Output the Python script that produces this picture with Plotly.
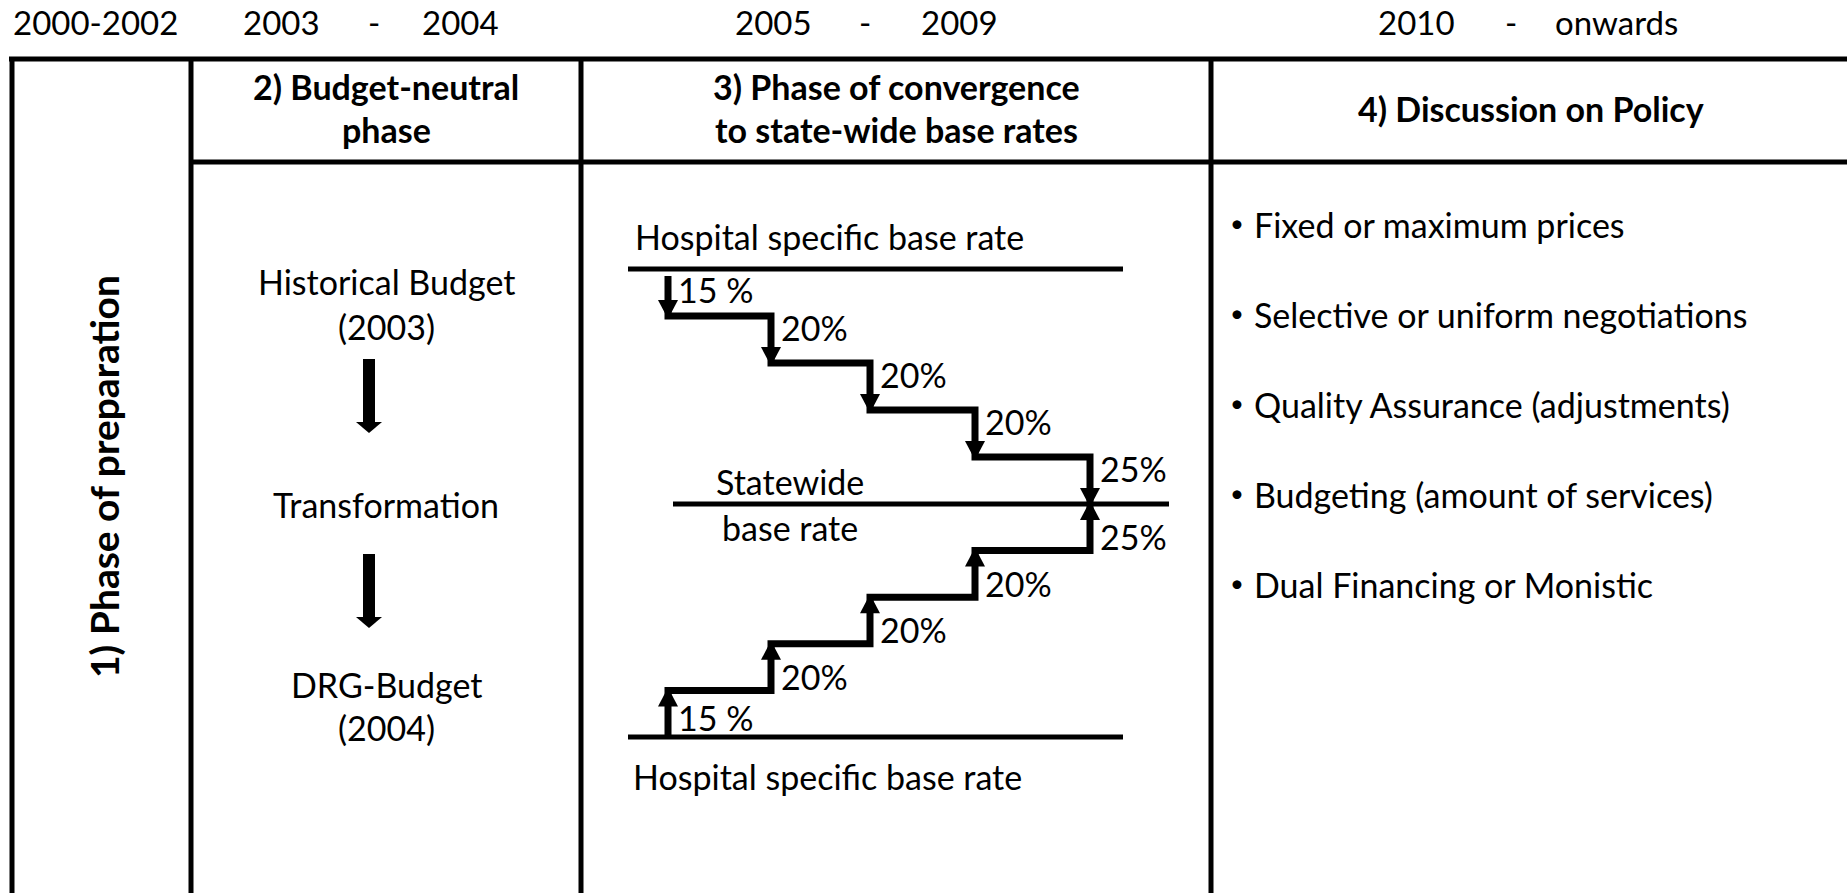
import plotly.graph_objects as go

# ---------------- data (text content) ----------------
period_start = ["2000-2002", "2003", "2005", "2010"]
period_end = ["", "2004", "2009", "onwards"]
phase_titles = [
    "1) Phase of preparation",
    "2) Budget-neutral<br>phase",
    "3) Phase of convergence<br>to state-wide base rates",
    "4) Discussion on Policy",
]
budget_stages = ["Historical Budget<br>(2003)", "Transformation", "DRG-Budget<br>(2004)"]
convergence_steps = ["15 %", "20%", "20%", "20%", "25%"]
base_rate_labels = ["Hospital specific base rate", "Statewide<br>base rate", "Hospital specific base rate"]
policy_items = [
    "Fixed or maximum prices",
    "Selective or uniform negotiations",
    "Quality Assurance (adjustments)",
    "Budgeting (amount of services)",
    "Dual Financing or Monistic",
]

# ---------------- layout constants ----------------
W, H = 1847, 893
FONT = "Lato"
FS = 34
FS_YEAR = 33
FS_HEAD = 34
FS_VERT = 39
LW = 5          # table lines
SLW = 7         # stair lines
DY = -3         # text vertical nudge
TABLE_TOP = 59
HEADER_BOTTOM = 162
LEFT_BORDER = 12
COL_X = [191, 581, 1211]

YEAR_Y = 25
year_start_x = [95, 281, 773, 1416]
year_dash_x = [None, 374, 865, 1511]
year_end_x = [None, 460, 959, 1616]

header_cx = [None, 386, 896, 1531]
header_y = [89, 132]
single_header_y = 111
vert_label = (104, 480)

budget_cx = 386
budget_y = [[284, 329], [507], [687, 730]]
budget_arrows = [(359, 433), (554, 628)]
budget_arrow_x = 369

# stair geometry
stair_x = [668, 771, 870, 975, 1090]
top_rate_y = 269
state_y = 504
bottom_rate_y = 737
rate_line_x = (628, 1123)
state_line_x = (673, 1169)

policy_bullet_x = 1237
policy_x = 1252
policy_y0 = 227
policy_dy = 90

fig = go.Figure()
shapes = []
annotations = []


def text(x, y, s, size=FS, bold=False, xanchor="center", angle=0):
    annotations.append(dict(
        x=x, y=y + DY, xref="x", yref="y", text=s, showarrow=False,
        xanchor=xanchor, yanchor="middle", textangle=angle,
        font=dict(family=FONT, size=size, color="black",
                  weight="bold" if bold else "normal"),
    ))


def hline(y, x0, x1, w=LW):
    shapes.append(dict(type="line", xref="x", yref="y", x0=x0, x1=x1, y0=y, y1=y,
                       line=dict(color="black", width=w)))


def vline(x, y0, y1, w=LW):
    shapes.append(dict(type="line", xref="x", yref="y", x0=x, x1=x, y0=y0, y1=y1,
                       line=dict(color="black", width=w)))


def tri(x, tip, half, height, down=True):
    base = tip - height if down else tip + height
    shapes.append(dict(type="path", xref="x", yref="y",
                       path=f"M {x-half},{base} L {x+half},{base} L {x},{tip} Z",
                       fillcolor="black", line=dict(color="black", width=0)))


# ---------------- table ----------------
hline(TABLE_TOP, LEFT_BORDER - 3, W)
vline(LEFT_BORDER, TABLE_TOP - 2, H)
for cx in COL_X:
    vline(cx, TABLE_TOP - 2, H)
hline(HEADER_BOTTOM, COL_X[0], W)

# years
for i, s in enumerate(period_start):
    text(year_start_x[i], YEAR_Y, s, size=FS_YEAR)
    if period_end[i]:
        text(year_dash_x[i], YEAR_Y, "-", size=FS_YEAR)
        text(year_end_x[i], YEAR_Y, period_end[i], size=FS_YEAR)

# headers
text(vert_label[0], vert_label[1], phase_titles[0], size=FS_VERT, bold=True, angle=-90)
for i in (1, 2):
    for j, line in enumerate(phase_titles[i].split("<br>")):
        text(header_cx[i], header_y[j], line, size=FS_HEAD, bold=True)
text(header_cx[3], single_header_y, phase_titles[3], size=FS_HEAD, bold=True)

# column 2: budget stages and arrows
for i, stage in enumerate(budget_stages):
    for j, line in enumerate(stage.split("<br>")):
        text(budget_cx, budget_y[i][j], line)
for (a0, a1) in budget_arrows:
    shapes.append(dict(type="rect", xref="x", yref="y", x0=budget_arrow_x - 6, x1=budget_arrow_x + 6,
                       y0=a0, y1=a1 - 10, fillcolor="black", line=dict(width=0)))
    tri(budget_arrow_x, a1, 13, 11, down=True)

# column 3: convergence stairs
n = len(convergence_steps)
top_levels = [top_rate_y + k * (state_y - top_rate_y) / n for k in range(n + 1)]
bot_levels = [bottom_rate_y - k * (bottom_rate_y - state_y) / n for k in range(n + 1)]

hline(top_rate_y, *rate_line_x)
hline(bottom_rate_y, *rate_line_x)
hline(state_y, *state_line_x)

tx, ty = [stair_x[0]], [top_rate_y + 7]
bx, by = [stair_x[0]], [bottom_rate_y]
for k in range(n):
    tx += [stair_x[k]]
    ty += [top_levels[k + 1]]
    bx += [stair_x[k]]
    by += [bot_levels[k + 1]]
    if k + 1 < n:
        tx += [stair_x[k + 1]]
        ty += [top_levels[k + 1]]
        bx += [stair_x[k + 1]]
        by += [bot_levels[k + 1]]

for xs, ys in ((tx, ty), (bx, by)):
    fig.add_trace(go.Scatter(x=xs, y=ys, mode="lines", hoverinfo="skip",
                             line=dict(color="black", width=SLW), showlegend=False))

for k, lab in enumerate(convergence_steps):
    tri(stair_x[k], top_levels[k + 1] + 3, 10, 19, down=True)
    tri(stair_x[k], bot_levels[k + 1] - 3, 10, 19, down=False)
    off_t = 23 if k == 0 else 14
    off_b = 17 if k == 0 else 11
    text(stair_x[k] + 8, top_levels[k] + off_t, lab, xanchor="left")
    text(stair_x[k] + 8, bot_levels[k] - off_b, lab, xanchor="left")

text(rate_line_x[0] + 5, top_rate_y - 30, base_rate_labels[0], xanchor="left")
sw = base_rate_labels[1].split("<br>")
text(790, state_y - 20, sw[0])
text(790, state_y + 26, sw[1])
text(rate_line_x[0] + 3, bottom_rate_y + 42, base_rate_labels[2], xanchor="left")

# column 4: policy items
for i, item in enumerate(policy_items):
    y = policy_y0 + i * policy_dy
    text(policy_bullet_x, y - 2, "\u2022", size=24)
    text(policy_x, y, item, xanchor="left")

fig.update_layout(
    width=W, height=H, autosize=False,
    margin=dict(l=0, r=0, t=0, b=0),
    paper_bgcolor="white", plot_bgcolor="white",
    xaxis=dict(range=[0, W], visible=False, fixedrange=True),
    yaxis=dict(range=[H, 0], visible=False, fixedrange=True),
    shapes=shapes, annotations=annotations, showlegend=False,
)
fig.write_html(
    "out.html",
    config={"displayModeBar": False},
    post_script="document.body.style.margin='0px';document.body.style.overflow='hidden';",
)
